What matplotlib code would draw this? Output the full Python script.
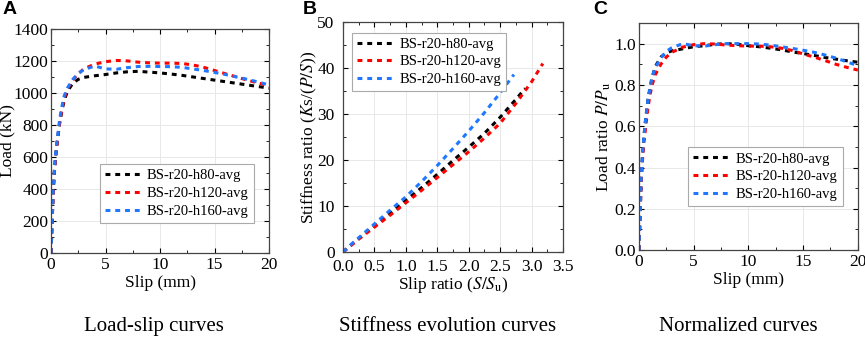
import numpy as np
import matplotlib
matplotlib.use('Agg')
from matplotlib import pyplot as plt
from matplotlib.ticker import MultipleLocator

plt.rcParams['font.family'] = ['Liberation Serif', 'DejaVu Serif']
plt.rcParams['mathtext.fontset'] = 'stix'

names = ['BS-r20-h80-avg', 'BS-r20-h120-avg', 'BS-r20-h160-avg']
colors = ['#000000', '#ff0000', '#1f78ff']

# panel A: load-slip
slip_a = [0, 0.05, 0.1, 0.2, 0.3, 0.45, 0.6, 0.8, 1.0, 1.2, 1.5, 2.0, 2.5, 3, 4, 5, 6,
          7, 8, 9, 10, 11, 12, 13, 14, 15, 16, 17, 18, 19, 20]
load_h80 = [0, 95, 190, 380, 500, 620, 710, 815, 890, 950, 1010, 1060, 1085, 1097, 1107,
            1115, 1125, 1132, 1135, 1130, 1125, 1118, 1110, 1100, 1090, 1080, 1070, 1060,
            1050, 1040, 1030]
load_h120 = [0, 95, 190, 380, 500, 620, 710, 820, 900, 965, 1025, 1080, 1120, 1150, 1180,
             1195, 1203, 1200, 1192, 1188, 1186, 1186, 1184, 1175, 1160, 1140, 1120, 1100,
             1080, 1062, 1045]
load_h160 = [0, 100, 200, 400, 520, 640, 730, 840, 915, 980, 1030, 1085, 1122, 1145, 1168,
             1150, 1148, 1158, 1165, 1166, 1165, 1164, 1160, 1150, 1140, 1128, 1115, 1100,
             1085, 1068, 1050]

# panel B: stiffness evolution
ratio_h80 = [0, 0.1, 0.25, 0.5, 0.75, 1.0, 1.25, 1.5, 1.75, 2.0, 2.25, 2.5, 2.75, 2.9]
stiff_h80 = [0, 1.2, 2.9, 5.7, 8.4, 11.2, 14.0, 16.9, 19.9, 22.8, 25.8, 29.3, 33.2, 35.6]
ratio_h120 = [0, 0.1, 0.25, 0.5, 0.75, 1.0, 1.25, 1.5, 1.75, 2.0, 2.25, 2.5, 2.75, 3.0, 3.18]
stiff_h120 = [0, 1.1, 2.8, 5.4, 8.0, 10.7, 13.4, 16.2, 19.0, 21.8, 24.8, 28.0, 32.3, 37.0, 41.0]
ratio_h160 = [0, 0.1, 0.25, 0.5, 0.75, 1.0, 1.25, 1.5, 1.75, 2.0, 2.25, 2.5, 2.72]
stiff_h160 = [0, 1.3, 3.1, 6.1, 9.1, 12.0, 15.3, 18.8, 22.5, 26.3, 30.3, 34.6, 38.6]

# panel C: normalized
norm_h80 = [0, 0.08, 0.17, 0.34, 0.44, 0.55, 0.63, 0.72, 0.785, 0.835, 0.89, 0.935, 0.955,
            0.965, 0.975, 0.985, 0.99, 0.997, 1.0, 0.997, 0.99, 0.985, 0.978, 0.97, 0.96,
            0.952, 0.943, 0.933, 0.925, 0.917, 0.91]
norm_h120 = [0, 0.08, 0.16, 0.32, 0.42, 0.52, 0.59, 0.68, 0.75, 0.80, 0.85, 0.90, 0.935,
             0.958, 0.983, 0.995, 1.0, 0.998, 0.993, 0.99, 0.988, 0.988, 0.985, 0.978, 0.967,
             0.95, 0.935, 0.918, 0.9, 0.885, 0.872]
norm_h160 = [0, 0.09, 0.17, 0.34, 0.45, 0.55, 0.63, 0.72, 0.785, 0.84, 0.885, 0.93, 0.963,
             0.98, 1.0, 0.99, 0.988, 0.995, 1.0, 1.0, 1.0, 0.998, 0.993, 0.985, 0.977, 0.968,
             0.958, 0.945, 0.93, 0.912, 0.893]

fig = plt.figure(figsize=(8.65, 3.38), dpi=100)
axA = fig.add_axes([0.059, 0.2515, 0.252, 0.663])
axB = fig.add_axes([0.3965, 0.2544, 0.2543, 0.68])
axC = fig.add_axes([0.7387, 0.260, 0.253, 0.672])

dash = (0, (1.6, 1.6))


def style(ax, xmaj, xmin, ymaj, ymin):
  ax.xaxis.set_major_locator(MultipleLocator(xmaj))
  ax.xaxis.set_minor_locator(MultipleLocator(xmin))
  ax.yaxis.set_major_locator(MultipleLocator(ymaj))
  ax.yaxis.set_minor_locator(MultipleLocator(ymin))
  ax.tick_params(which='both', direction='in', top=True, right=True, labelsize=12.5, pad=2)
  ax.tick_params(which='major', length=3.5, width=0.8)
  ax.tick_params(which='minor', length=2, width=0.6)
  ax.tick_params(axis='x', pad=3)
  ax.grid(True, which='major', color='#e8e8e8', lw=0.7)
  ax.set_axisbelow(True)
  for s in ax.spines.values():
    s.set_color('#444444')
    s.set_linewidth(0.9)


def legend(ax, loc, anchor):
  leg = ax.legend(loc=loc, bbox_to_anchor=anchor, fontsize=10.5, fancybox=False,
                  edgecolor='#aaaaaa', framealpha=1, handlelength=2.6, handletextpad=0.3,
                  borderpad=0.35, labelspacing=0.3, borderaxespad=0)
  leg.get_frame().set_linewidth(0.8)


for y, c, n in zip([load_h80, load_h120, load_h160], colors, names):
  axA.plot(slip_a, y, color=c, lw=2.2, ls=dash, label=n)
axA.set_xlim(0, 20)
axA.set_ylim(0, 1400)
style(axA, 5, 2.5, 200, 100)
axA.set_xlabel('Slip (mm)', fontsize=12.5, labelpad=1)
axA.set_ylabel('Load (kN)', fontsize=12.5, labelpad=-1)
legend(axA, 'lower right', (0.93, 0.135))

for x, y, c, n in zip([ratio_h80, ratio_h120, ratio_h160], [stiff_h80, stiff_h120, stiff_h160],
                      colors, names):
  axB.plot(x, y, color=c, lw=2.2, ls=dash, label=n)
axB.set_xlim(0, 3.5)
axB.set_ylim(0, 50)
style(axB, 0.5, 0.25, 10, 5)
axB.tick_params(axis='y', pad=6)
axB.tick_params(axis='x', pad=5)
axB.set_xlabel('Slip ratio ($S/S_\\mathrm{u}$)', fontsize=12.5, labelpad=0)
axB.set_ylabel('Stiffness ratio ($K$s/($P/S$))', fontsize=12.5, labelpad=-1)
legend(axB, 'upper left', (0.04, 0.955))

for y, c, n in zip([norm_h80, norm_h120, norm_h160], colors, names):
  axC.plot(slip_a, y, color=c, lw=2.2, ls=dash, label=n)
axC.set_xlim(0, 20)
axC.set_ylim(0, 1.1)
style(axC, 5, 2.5, 0.2, 0.1)
axC.yaxis.set_major_formatter(matplotlib.ticker.FormatStrFormatter('%.1f'))
axC.set_xlabel('Slip (mm)', fontsize=12.5, labelpad=1)
axC.set_ylabel('Load ratio $P/P_\\mathrm{u}$', fontsize=12.5, labelpad=1)
legend(axC, 'lower right', (0.93, 0.195))

for x, t in [(0.003, 'A'), (0.35, 'B'), (0.686, 'C')]:
  fig.text(x, 0.998, t, fontsize=14, fontweight='bold', family='Liberation Sans', va='top')

for x, t in [(0.178, 'Load-slip curves'), (0.517, 'Stiffness evolution curves'),
             (0.853, 'Normalized curves')]:
  fig.text(x, 0.02, t, fontsize=15, ha='center', va='baseline')

fig.savefig('out.png', dpi=100)
